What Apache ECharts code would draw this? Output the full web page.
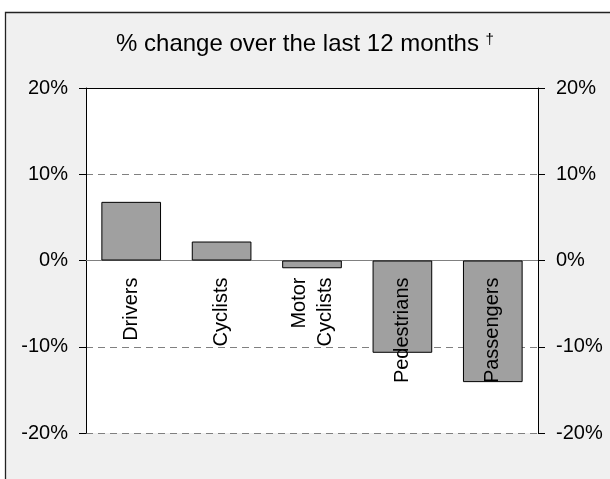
<!DOCTYPE html>
<html>
<head>
<meta charset="utf-8">
<script src="https://cdn.jsdelivr.net/npm/echarts@6/dist/echarts.min.js"></script>
<style>
html,body{margin:0;padding:0;background:#fff;}
#chart{width:610px;height:479px;}
</style>
</head>
<body>
<div id="chart"></div>
<script>
var categories = ['Drivers', 'Cyclists', 'Motor\nCyclists', 'Pedestrians', 'Passengers'];
var values = [6.8, 2.2, -0.9, -10.7, -14.1];
var yMin = -20, yMax = 20, yStep = 10;
var titleText = '% change over the last 12 months';
var titleMark = '\u2020';

var FONT = '"Liberation Sans", Arial, sans-serif';
var GRID_TOP = 88, GRID_BOTTOM = 46, CANVAS_H = 479;
var plotH = CANVAS_H - GRID_TOP - GRID_BOTTOM;
// label anchor: 16px below the zero line, measured from the bottom edge of the plot
var zeroFromBottom = plotH * (0 - yMin) / (yMax - yMin);
var labelMargin = -(zeroFromBottom - 17);

var chart = echarts.init(document.getElementById('chart'));
var yAxisBase = {
  type: 'value', min: yMin, max: yMax, interval: yStep,
  axisLine: {show: true, lineStyle: {color: '#000', width: 1}},
  axisTick: {show: true, length: 7, lineStyle: {color: '#000'}},
  axisLabel: {formatter: '{value}%', fontSize: 20, color: '#000', fontFamily: FONT, margin: 18}
};
chart.setOption({
  backgroundColor: '#fff',
  animation: false,
  graphic: [{
    type: 'rect', z: -10, silent: true,
    shape: {x: 5.5, y: 12.5, width: 700, height: 600},
    style: {fill: '#f0f0f0', stroke: '#222', lineWidth: 1.3}
  }],
  title: {
    text: titleText + ' {sup|' + titleMark + '}',
    left: 'center', top: 27,
    textStyle: {
      fontSize: 24, fontWeight: 'normal', color: '#000', fontFamily: FONT,
      rich: {sup: {fontSize: 15, color: '#000', fontFamily: FONT, verticalAlign: 'top', padding: [0, 0, 10, 0]}}
    }
  },
  grid: {left: 86, right: 72, top: GRID_TOP, bottom: GRID_BOTTOM, show: true, backgroundColor: '#fff',
         borderWidth: 0, containLabel: false, outerBoundsMode: 'none'},
  xAxis: [{
    type: 'category', data: categories, z: 10,
    axisLine: {show: false, onZero: false},
    axisTick: {show: false},
    axisLabel: {rotate: 90, fontSize: 20, color: '#000', fontFamily: FONT, margin: labelMargin, interval: 0, lineHeight: 26}
  }, {
    type: 'category', data: categories, position: 'top', z: 10,
    axisLine: {show: true, onZero: false, lineStyle: {color: '#000', width: 1}},
    axisTick: {show: false}, axisLabel: {show: false}, splitLine: {show: false}
  }],
  yAxis: [
    Object.assign({}, yAxisBase, {position: 'left',
      splitLine: {show: true, lineStyle: {color: '#808080', type: [7, 5], width: 1}}}),
    Object.assign({}, yAxisBase, {position: 'right', splitLine: {show: false}})
  ],
  series: [{
    type: 'bar', data: values, xAxisIndex: 0, yAxisIndex: 0,
    barCategoryGap: '34%',
    itemStyle: {color: '#a0a0a0', borderColor: '#000', borderWidth: 1},
    markLine: {
      silent: true, symbol: 'none', label: {show: false}, z: 1,
      lineStyle: {color: '#808080', type: 'solid', width: 1},
      data: [{yAxis: 0}]
    }
  }]
});
</script>
</body>
</html>
